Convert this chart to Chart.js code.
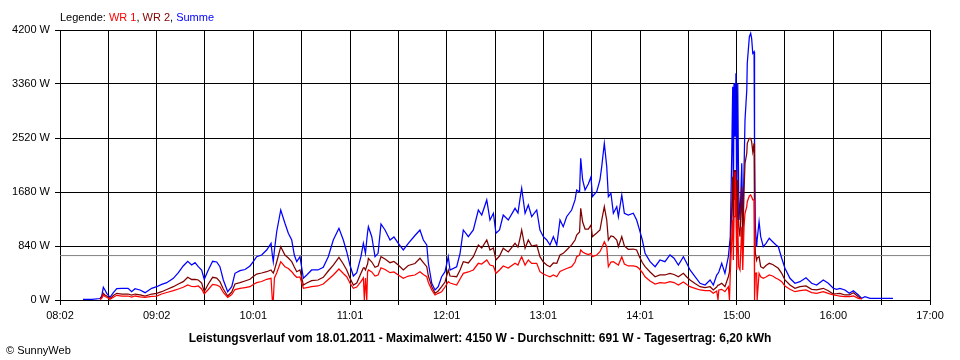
<!DOCTYPE html>
<html>
<head>
<meta charset="utf-8">
<script src="https://cdn.jsdelivr.net/npm/chart.js@4.4.1/dist/chart.umd.min.js"></script>
<style>
  html, body { margin: 0; padding: 0; background: #fff; }
  #chart { display: block; }
</style>
</head>
<body>
<canvas id="chart" width="960" height="360"></canvas>
<script>
// Zeit in Minuten ab Mitternacht, Leistung in W
const zeitMin = [
  496.2, 501.8, 506.7, 507.8, 508.8, 509.8, 510.9, 512.9, 515.0, 517.1,
  520.3, 524.1, 526.3, 528.4, 531.5, 534.6, 538.7, 541.8, 544.9, 548.0,
  552.1, 555.2, 558.2, 561.0, 563.4, 565.5, 567.5, 569.6, 571.2, 573.7,
  576.4, 578.9, 580.9, 583.0, 585.7, 588.2, 590.2, 593.3, 596.4, 599.5,
  601.5, 603.6, 606.7, 609.8, 612.5, 613.3, 613.9, 614.6, 616.0, 618.5,
  621.1, 623.2, 625.3, 626.9, 628.4, 630.4, 632.5, 634.6, 637.6, 641.5,
  644.8, 647.9, 651.0, 654.5, 657.2, 659.3, 661.3, 663.4, 665.5, 668.1,
  669.6, 670.2, 670.9, 671.7, 672.2, 672.7, 674.8, 676.8, 678.7, 680.5,
  683.0, 686.1, 688.5, 691.2, 694.3, 697.4, 701.5, 704.6, 706.7, 708.8,
  709.8, 711.9, 713.9, 715.9, 718.0, 720.1, 722.1, 723.2, 727.3, 729.4,
  731.4, 734.5, 737.6, 740.7, 742.8, 745.9, 747.9, 750.0, 751.6, 753.8,
  756.1, 759.2, 763.4, 765.2, 766.5, 767.5, 769.6, 771.6, 773.7, 776.8,
  778.8, 780.9, 783.0, 785.0, 787.1, 789.2, 791.2, 793.2, 795.3, 798.4,
  800.5, 801.5, 803.3, 804.0, 805.2, 806.7, 808.7, 810.4, 811.2, 813.9,
  815.9, 817.0, 818.6, 820.1, 821.1, 822.7, 824.2, 826.3, 827.3, 829.4,
  831.0, 833.4, 836.5, 838.6, 840.1, 842.1, 843.8, 846.9, 850.0, 853.0,
  856.1, 859.2, 861.7, 864.4, 867.5, 869.6, 871.6, 874.7, 877.8, 880.9,
  884.0, 886.0, 888.1, 888.9, 889.4, 891.2, 893.2, 895.3, 896.0, 896.5,
  897.4, 898.0, 898.4, 898.8, 899.4, 900.0, 900.5, 901.1, 901.7, 902.5,
  903.6, 904.2, 905.0, 905.6, 906.7, 907.0, 908.3, 909.1, 909.7, 910.4,
  911.2, 911.5, 912.0, 912.8, 913.1, 914.3, 915.3, 916.9, 918.6, 920.6,
  922.7, 924.8, 926.2, 928.3, 930.3, 933.4, 936.5, 939.6, 943.3, 946.8,
  949.9, 954.0, 957.1, 960.2, 962.3, 964.3, 967.4, 970.1, 972.6, 975.7,
  977.8, 979.8, 982.9, 997.1
];

const summe = [
  11, 11, 23, 62, 198, 156, 104, 42, 114, 176,
  182, 182, 129, 176, 156, 114, 182, 207, 244, 269,
  337, 425, 529, 602, 544, 580, 518, 467, 322, 467,
  602, 591, 518, 311, 129, 207, 415, 456, 474, 529,
  596, 674, 700, 778, 882, 700, 596, 778, 1062, 1400,
  1193, 1038, 933, 700, 596, 674, 338, 389, 467, 467,
  509, 674, 933, 1115, 933, 751, 544, 373, 425, 674,
  882, 809, 726, 933, 1050, 1140, 985, 674, 726, 1182,
  1089, 933, 980, 882, 778, 882, 1003, 1089, 933, 856,
  571, 260, 156, 207, 362, 440, 674, 467, 518, 726,
  1089, 985, 1089, 1400, 1322, 1556, 1244, 1349, 1038, 1089,
  1322, 1244, 1426, 1353, 1582, 1738, 1349, 1478, 1296, 1400,
  1089, 985, 933, 856, 985, 856, 1244, 1140, 1296, 1400,
  1556, 1711, 1680, 2204, 1867, 1711, 1804, 1918, 1607, 1685,
  1867, 2074, 2438, 2074, 1607, 1660, 1349, 1451, 1296, 1633,
  1349, 1322, 1349, 1244, 1115, 933, 726, 596, 518, 622,
  596, 700, 649, 544, 674, 571, 467, 362, 260, 233,
  311, 233, 389, 415, 436, 571, 415, 674, 856, 985,
  2282, 3318, 1244, 3371, 2540, 3527, 1244, 3371, 1660, 1244,
  2126, 1140, 2022, 2800, 3267, 3682, 4096, 4149, 4071, 3838,
  3863, 2282, 1140, 829, 933, 1218, 985, 829, 882, 960,
  907, 856, 829, 649, 493, 338, 260, 285, 347, 260,
  233, 311, 260, 182, 166, 182, 156, 104, 145, 78,
  26, 51, 26, 26
];

const wr2 = [
  null, null, 16, 42, 104, 78, 62, 20, 70, 104,
  93, 93, 78, 93, 78, 62, 93, 104, 129, 163,
  207, 249, 285, 353, 319, 322, 311, 264, 129, 249,
  353, 342, 285, 171, 62, 124, 249, 269, 296, 322,
  366, 404, 420, 440, 467, 436, 420, 467, 591, 829,
  700, 653, 596, 513, 440, 467, 233, 264, 300, 311,
  353, 451, 544, 664, 560, 467, 342, 233, 264, 415,
  498, 498, 467, 529, 560, 649, 591, 509, 529, 674,
  638, 580, 599, 544, 467, 537, 568, 649, 583, 518,
  373, 207, 104, 140, 207, 280, 467, 373, 362, 467,
  596, 576, 674, 856, 809, 933, 778, 809, 622, 684,
  804, 747, 882, 824, 964, 1089, 804, 933, 840, 856,
  674, 591, 544, 518, 576, 571, 700, 726, 778, 856,
  933, 1011, 1058, 1426, 1213, 1104, 1104, 1167, 985, 1042,
  1089, 1244, 1451, 1244, 933, 996, 985, 933, 829, 985,
  840, 789, 793, 778, 684, 583, 518, 436, 362, 389,
  389, 415, 397, 362, 415, 358, 311, 257, 207, 194,
  207, 156, 202, 233, 233, 260, 207, 362, 436, 700,
  1451, 1918, 985, 2022, 1556, 2022, 829, 1867, 1140, 985,
  1762, 829, 1711, 2126, 2282, 2438, 2515, 2515, 2463, 2307,
  2438, 1244, 726, 622, 653, 674, 518, 493, 537, 571,
  552, 518, 493, 415, 311, 233, 182, 207, 218, 166,
  156, 182, 145, 93, 98, 104, 78, 78, 114, 51,
  16, null, null, null
];

const wr1 = [
  null, null, 8, 26, 78, 54, 42, 11, 42, 73,
  62, 62, 47, 62, 47, 42, 58, 62, 93, 117,
  145, 171, 198, 233, 210, 207, 218, 171, 93, 163,
  244, 233, 207, 117, 42, 86, 163, 182, 194, 207,
  241, 269, 288, 322, 338, 0, 0, 342, 420, 596,
  518, 490, 440, 389, 353, 358, 182, 194, 207, 218,
  249, 319, 389, 482, 412, 362, 264, 182, 202, 285,
  342, 0, 342, 0, 436, 467, 436, 373, 389, 502,
  474, 425, 436, 389, 338, 373, 389, 440, 397, 362,
  272, 156, 78, 104, 129, 202, 285, 264, 233, 327,
  415, 436, 467, 571, 560, 622, 544, 529, 415, 467,
  529, 498, 571, 544, 622, 674, 544, 622, 568, 571,
  440, 404, 381, 362, 389, 362, 443, 467, 490, 518,
  591, 674, 700, 778, 747, 726, 708, 726, 674, 700,
  751, 809, 907, 829, 518, 591, 596, 560, 544, 674,
  560, 529, 529, 518, 490, 428, 362, 296, 249, 269,
  264, 285, 272, 233, 280, 241, 207, 182, 156, 145,
  145, 104, 140, 0, 156, 166, 129, 207, 0, 415,
  933, 1244, 622, 1296, 1991, 1556, 467, 1244, 518, 467,
  1140, 467, 1140, 1349, 1451, 1529, 1618, 1633, 1607, 1556,
  1556, 0, 415, 420, 0, 415, 362, 338, 358, 389,
  373, 338, 322, 285, 218, 166, 129, 145, 156, 114,
  104, 129, 104, 78, 70, 62, 51, 51, 62, 26,
  16, null, null, null
];

const mittelwert = 691;
const xMin = 482, xMax = 1020;
const xTickLabels = ['08:02', '09:02', '10:01', '11:01', '12:01', '13:01', '14:01', '15:00', '16:00', '17:00'];
const yMax = 4200, yStep = 840;

const FONT = '"Liberation Sans", Arial, sans-serif';

const pts = (arr) => zeitMin.map((t, i) => ({ x: t, y: arr[i] }));

// Legende oben, Titel unten, Copyright
const textPlugin = {
  id: 'texte',
  afterDraw(chart) {
    const ctx = chart.ctx;
    ctx.save();
    ctx.font = '11px ' + FONT;
    ctx.textBaseline = 'alphabetic';
    ctx.textAlign = 'left';
    const parts = [
      ['Legende: ', '#000000'],
      ['WR 1', '#ff0000'],
      [', ', '#000000'],
      ['WR 2', '#800000'],
      [', ', '#000000'],
      ['Summe', '#0000ff']
    ];
    let x = 60;
    parts.forEach(([s, c]) => {
      ctx.fillStyle = c;
      ctx.fillText(s, x, 21);
      x += ctx.measureText(s).width;
    });

    ctx.fillStyle = '#000';
    ctx.fillText('\u00a9 SunnyWeb', 6, 354);

    ctx.font = 'bold 12px ' + FONT;
    ctx.textAlign = 'center';
    ctx.fillText('Leistungsverlauf vom 18.01.2011 - Maximalwert: 4150 W - Durchschnitt: 691 W - Tagesertrag: 6,20 kWh', 480, 342);
    ctx.restore();
  }
};

new Chart(document.getElementById('chart').getContext('2d'), {
  type: 'line',
  data: {
    datasets: [
      { label: 'WR 1', data: pts(wr1), borderColor: '#ff0000', order: 0 },
      { label: 'WR 2', data: pts(wr2), borderColor: '#800000', order: 1 },
      { label: 'Summe', data: pts(summe), borderColor: '#0000ff', order: 2 },
      { label: 'Durchschnitt', data: [{ x: xMin, y: mittelwert }, { x: xMax, y: mittelwert }], borderColor: '#808080', borderWidth: 1, order: 3 }
    ]
  },
  options: {
    responsive: false,
    animation: false,
    devicePixelRatio: 1,
    layout: { padding: { top: 30, right: 30, left: 0, bottom: 0 } },
    elements: {
      point: { radius: 0 },
      line: { borderWidth: 1.25, tension: 0, fill: false }
    },
    plugins: { legend: { display: false }, tooltip: { enabled: false } },
    scales: {
      x: {
        type: 'linear', min: xMin, max: xMax,
        afterBuildTicks: (s) => {
          const n = (xTickLabels.length - 1) * 2;
          s.ticks = [];
          for (let i = 0; i <= n; i++) s.ticks.push({ value: xMin + i * (xMax - xMin) / n });
        },
        afterFit: (s) => { s.height = 60; },
        ticks: {
          autoSkip: false, maxRotation: 0, padding: 4, color: '#000',
          font: { family: FONT, size: 11 },
          callback: (v, i) => (i % 2 === 0 ? xTickLabels[i / 2] : '')
        },
        grid: { color: '#000', lineWidth: 1, tickLength: 5 },
        border: { color: '#000' }
      },
      y: {
        min: 0, max: yMax,
        afterFit: (s) => { s.width = 60; },
        ticks: {
          stepSize: yStep, padding: 5, color: '#000',
          font: { family: FONT, size: 11 },
          callback: (v) => v + ' W'
        },
        grid: { color: '#000', lineWidth: 1, tickLength: 5 },
        border: { color: '#000' }
      }
    }
  },
  plugins: [textPlugin]
});
</script>
</body>
</html>
